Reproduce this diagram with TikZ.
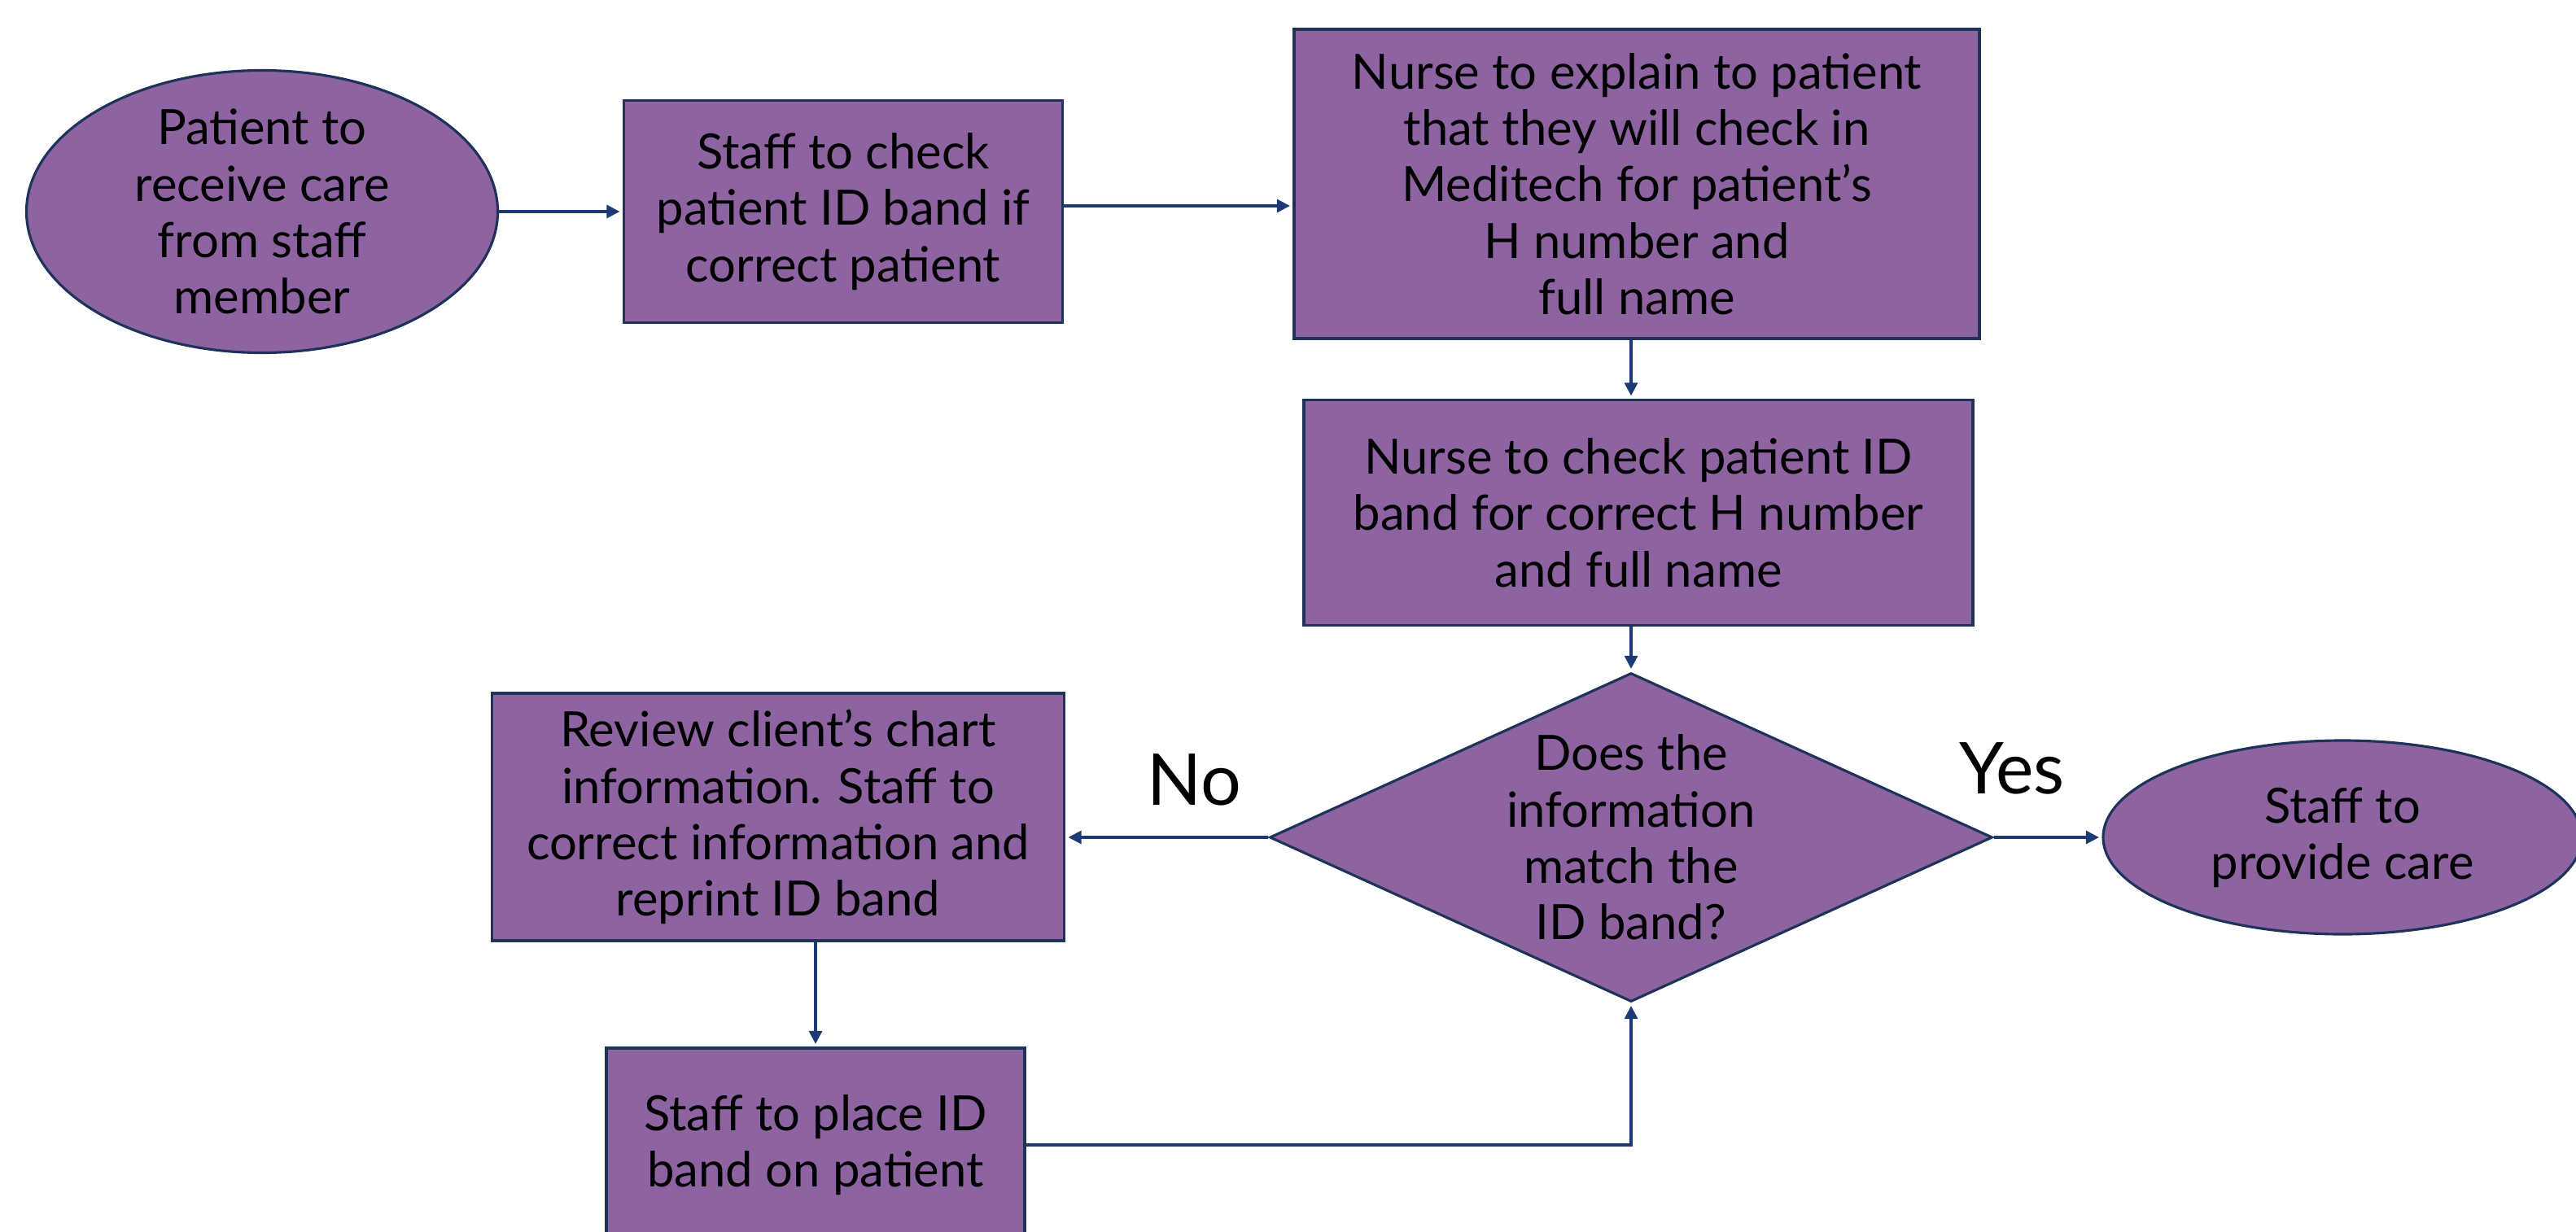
\documentclass[tikz,border=0pt]{standalone}
\usepackage{fontspec}
\setmainfont{Lato}
\usepackage{tikz}
\usetikzlibrary{shapes.geometric,positioning,arrows.meta}
\definecolor{stepfill}{RGB}{141,100,161}
\definecolor{stepline}{RGB}{30,50,90}
\definecolor{flowline}{RGB}{28,58,118}
\tikzset{box/.style={draw=stepline, fill=stepfill, line width=0.9pt, rectangle, align=center, inner sep=0pt, font=\fontsize{17}{19.7}\selectfont}}
\tikzset{term/.style={box, ellipse}}
\tikzset{decide/.style={box, diamond, aspect=2.2}}
\tikzset{flow/.style={draw=flowline, line width=0.9pt, ->, shorten >=1pt}}
\tikzset{answer/.style={font=\fontsize{25}{29}\selectfont}}

\begin{document}
\begin{tikzpicture}[>={Triangle[length=0.16cm,width=0.16cm]}, on grid]
			\useasboundingbox (0,0) rectangle (31.65,-15.13);
			\clip (0,0) rectangle (31.65,-15.13);
			\node[term, inner ysep=-0.15cm, minimum width=5.79cm, minimum height=3.47cm] (S1) at (3.22,-2.60) {Patient to\\receive care\\from staff\\member};
			\node[box, minimum width=5.39cm, minimum height=2.73cm] (S2) [right = 7.14cm of S1] {Staff to check\\patient ID band if\\correct patient};
			\node[box, minimum width=8.42cm, minimum height=3.80cm] (S3) [above right = 0.34cm and 9.75cm of S2] {Nurse to explain to patient\\that they will check in\\Meditech for patient's\\H number and\\full name};
			\node[box, minimum width=8.22cm, minimum height=2.77cm] (S4) [below right = 4.04cm and 0.02cm of S3] {Nurse to check patient ID\\band for correct H number\\and full name};
			\node[decide, minimum width=8.88cm, minimum height=4.04cm] (S5) [below left = 3.99cm and 0.09cm of S4] {Does the\\information\\match the\\ID band?};
			\node[box, minimum width=7.03cm, minimum height=3.04cm] (S6) [above left = 0.25cm and 10.48cm of S5] {Review client's chart\\information. Staff to\\correct information and\\reprint ID band};
			\node[box, minimum width=5.14cm, minimum height=2.38cm] (S7) [below right = 4.03cm and 0.46cm of S6] {Staff to place ID\\band on patient};
			\node[term, minimum width=5.88cm, minimum height=2.38cm] (S8) [right = 8.74cm of S5] {Staff to\\provide care};
			
			\node[answer] (No) at (14.67,-9.58) {No};
			\node[answer] (Yes) at (24.72,-9.44) {Yes};
			
			
			\path (S1) edge [flow] (S2);
			\path ([yshift=0.07cm]S2.east) edge [flow] ([yshift=0.07cm]S2.east -| S3.west);
			\path (S3.south -| S5) edge [flow] (S4.north -| S5);
			\path (S4.south -| S5) edge [flow] (S5.north);
			\path (S5.west) edge [flow] (S5.west -| S6.east);
			\path (S5) edge [flow] (S8);
			\path (S7 |- S6.south) edge [flow] (S7);
			\draw[flow] (S7.east) -| (S5.south);
		\end{tikzpicture}
\end{document}
